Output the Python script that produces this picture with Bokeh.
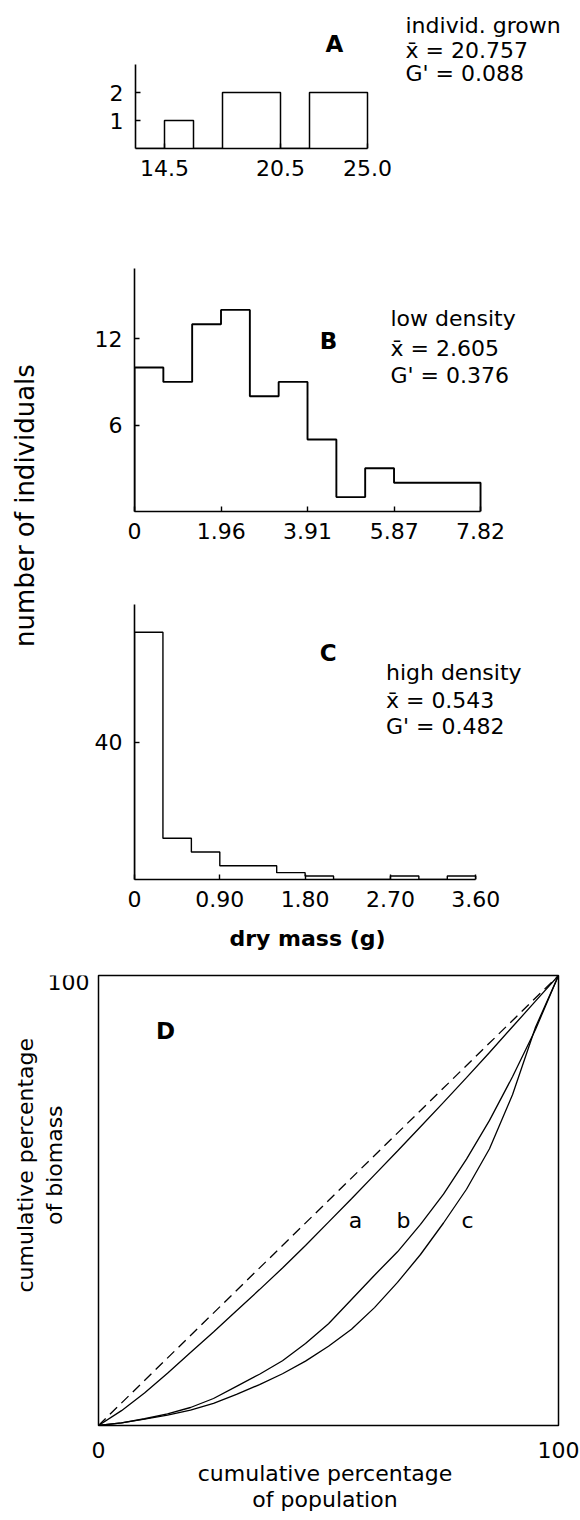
import math
from bokeh.plotting import figure
from bokeh.models import Range1d, FixedTicker, Label, Title
from bokeh.layouts import column, row
from bokeh.embed import file_html
from bokeh.resources import INLINE

FONT = "DejaVu Sans"

# ---------------- data ----------------
# Panel A: individually grown plants
a_edges = [13.0, 14.5, 16.0, 17.5, 19.0, 20.5, 22.0, 23.5, 25.0]
a_counts = [0, 1, 0, 2, 2, 0, 2, 2]
a_xticks = [14.5, 20.5, 25.0]
a_xlabels = ["14.5", "20.5", "25.0"]
a_yticks = [1, 2]
a_ylabels = ["1", "2"]
a_text = ["individ. grown", "x\u0304 = 20.757", "G' = 0.088"]

# Panel B: low density
b_edges = [0.0, 0.652, 1.303, 1.955, 2.607, 3.258, 3.91, 4.562, 5.213, 5.865, 6.517, 7.168, 7.82]
b_counts = [10, 9, 13, 14, 8, 9, 5, 1, 3, 2, 2, 2]
b_xticks = [0.0, 1.96, 3.91, 5.87, 7.82]
b_xlabels = ["0", "1.96", "3.91", "5.87", "7.82"]
b_yticks = [6, 12]
b_ylabels = ["6", "12"]
b_text = ["low  density", "x\u0304 = 2.605", "G' = 0.376"]

# Panel C: high density
c_edges = [0.0, 0.3, 0.6, 0.9, 1.2, 1.5, 1.8, 2.1, 2.4, 2.7, 3.0, 3.3, 3.6]
c_counts = [72, 12, 8, 4, 4, 2, 1, 0, 0, 1, 0, 1]
c_xticks = [0.0, 0.9, 1.8, 2.7, 3.6]
c_xlabels = ["0", "0.90", "1.80", "2.70", "3.60"]
c_yticks = [40]
c_ylabels = ["40"]
c_text = ["high  density", "x\u0304 = 0.543", "G' = 0.482"]

# Panel D: Lorenz curves
d_pop = [0, 5, 10, 15, 20, 25, 30, 35, 40, 45, 50, 55, 60, 65, 70, 75, 80, 85, 90, 95, 100]
d_curve_a = [0, 3.3, 7.2, 11.6, 16.2, 20.8, 25.5, 30.2, 35.0, 40.0, 45.2, 50.4, 55.7, 61.0, 66.4, 71.8, 77.3, 82.9, 88.6, 94.3, 100]
d_curve_b = [0, 0.6, 1.5, 2.6, 4.0, 6.0, 8.7, 11.4, 14.4, 18.2, 22.6, 28.0, 33.4, 38.6, 44.7, 51.4, 59.2, 67.8, 77.5, 88.0, 100]
d_curve_c = [0, 0.6, 1.4, 2.3, 3.4, 4.9, 6.9, 9.1, 11.5, 14.3, 17.6, 21.4, 26.2, 31.8, 38.0, 45.0, 52.5, 61.5, 73.5, 88.5, 100]
d_equal = [0, 100]
d_xticks = [0, 100]
d_xlabels = ["0", "100"]
d_ytop_label = "100"
d_curve_names = ["a", "b", "c"]


# ---------------- helpers ----------------
def outline(edges, counts):
    xs, ys = [edges[0]], [0]
    for i, c in enumerate(counts):
        xs += [edges[i], edges[i + 1]]
        ys += [c, c]
    xs.append(edges[-1])
    ys.append(0)
    return xs, ys


def make_fig(w, h, bl, br, bt, bb, xr, yr, xaxis=True, yaxis=True):
    kw = {}
    if not xaxis:
        kw["x_axis_location"] = None
    if not yaxis:
        kw["y_axis_location"] = None
    p = figure(width=w, height=h, x_range=Range1d(*xr), y_range=Range1d(*yr),
               toolbar_location=None, output_backend="svg",
               min_border_left=bl, min_border_right=br,
               min_border_top=bt, min_border_bottom=bb, **kw)
    p.outline_line_color = None
    p.grid.visible = False
    p.background_fill_color = "white"
    p.border_fill_color = "white"
    return p


def style_axis(ax, ticks, labels, bounds, standoff, line=True):
    ax.ticker = FixedTicker(ticks=ticks)
    ax.major_label_overrides = {t: l for t, l in zip(ticks, labels)}
    if bounds is not None:
        ax.bounds = bounds
    ax.major_tick_in = 5
    ax.major_tick_out = 0
    ax.minor_tick_line_color = None
    ax.axis_line_color = "black" if line else None
    ax.axis_line_width = 1.6
    ax.major_tick_line_color = "black" if line else None
    ax.major_tick_line_width = 1.4
    ax.major_label_text_font = FONT
    ax.major_label_text_font_size = "22px"
    ax.major_label_text_color = "black"
    ax.major_label_standoff = standoff


def converter(fx, fy, x0, y0, sx, sy):
    return lambda X, Y: (x0 + (X - fx) / sx, y0 + (fy - Y) / sy)


def add_label(p, conv, X, Y, text, size=22, bold=False, align="left", angle=0.0):
    x, y = conv(X, Y)
    p.add_layout(Label(x=x, y=y, text=text, text_font=FONT,
                       text_font_size=f"{size}px",
                       text_font_style="bold" if bold else "normal",
                       text_color="black", text_align=align,
                       text_baseline="middle", angle=angle))


# ---------------- panel A (page y 0-200) ----------------
sxA, syA = (367 - 135) / 12.0, 28.0
pA = make_fig(580, 200, 135, 0, 0, 52, (13.0, 13.0 + 445 / sxA), (0, 148 / syA))
xs, ys = outline(a_edges, a_counts)
pA.line(xs, ys, line_color="black", line_width=1.5)
style_axis(pA.xaxis[0], a_xticks, a_xlabels, (a_edges[0], a_edges[-1]), 11)
style_axis(pA.yaxis[0], a_yticks, a_ylabels, (0, 3), 12)
cA = converter(135, 148, 13.0, 0, sxA, syA)
add_label(pA, cA, 334, 43, "A", size=23, bold=True, align="center")
for t, Y in zip(a_text, [25, 50, 73]):
    add_label(pA, cA, 405, Y, t)

# ---------------- panel B (page y 200-570) ----------------
sxB, syB = 44.25, 14.4
pB = make_fig(514, 370, 68, 0, 0, 59, (0, 446 / sxB), (0, 311 / syB))
xs, ys = outline(b_edges, b_counts)
pB.line(xs, ys, line_color="black", line_width=1.9)
style_axis(pB.xaxis[0], b_xticks, b_xlabels, (b_edges[0], b_edges[-1]), 11)
style_axis(pB.yaxis[0], b_yticks, b_ylabels, (0, 16.9), 12)
cB = converter(134, 511, 0, 0, sxB, syB)
add_label(pB, cB, 328, 340, "B", size=23, bold=True, align="center")
for t, Y in zip(b_text, [318, 348, 375]):
    add_label(pB, cB, 390, Y, t)

# ---------------- panel C (page y 570-969) ----------------
sxC, syC = 95.0, 3.433
C_BOTTOM = 90
pC = make_fig(514, 309 + C_BOTTOM, 67, 0, 0, C_BOTTOM, (0, 447 / sxC), (0, 309 / syC))
xs, ys = outline(c_edges, c_counts)
pC.line(xs, ys, line_color="black", line_width=1.4)
style_axis(pC.xaxis[0], c_xticks, c_xlabels, (c_edges[0], c_edges[-1]), 11)
style_axis(pC.yaxis[0], c_yticks, c_ylabels, (0, 80), 12)
cC = converter(133, 879, 0, 0, sxC, syC)
add_label(pC, cC, 327, 652, "C", size=23, bold=True, align="center")
for t, Y in zip(c_text, [672, 700, 726]):
    add_label(pC, cC, 385, Y, t)
pC.add_layout(Title(text="dry mass (g)", align="left", offset=228 - 133,
                    vertical_align="top",
                    text_font=FONT, text_font_size="22px", text_font_style="bold",
                    text_color="black", standoff=33), "below")

MID_TOP = 200
MID_BOTTOM = 570 + 309 + C_BOTTOM  # 969

# ---------------- label column (page x 0-66) ----------------
pL = make_fig(66, MID_BOTTOM - MID_TOP, 0, 0, 0, 0, (0, 66), (0, MID_BOTTOM - MID_TOP),
              xaxis=False, yaxis=False)
cL = converter(0, MID_BOTTOM, 0, 0, 1, 1)
add_label(pL, cL, 24, 505, "number of individuals", size=26, align="center", angle=math.pi / 2)

# ---------------- panel D (page y 969-1520) ----------------
D_H = 1520 - MID_BOTTOM
pDL = make_fig(90, D_H, 0, 0, 0, 0, (0, 90), (0, D_H), xaxis=False, yaxis=False)
cDL = converter(0, 1520, 0, 0, 1, 1)
add_label(pDL, cDL, 25, 1197, "cumulative  percentage", align="center", angle=math.pi / 2)
add_label(pDL, cDL, 54, 1197, "of  biomass", align="center", angle=math.pi / 2)
add_label(pDL, cDL, 89, 977, d_ytop_label, align="right")

sxD, syD = 460 / 100.0, 450 / 100.0
pD = make_fig(490, D_H, 8, 22, 975 - MID_BOTTOM, 95, (0, 100), (0, 100), yaxis=False)
pD.outline_line_color = "black"
pD.outline_line_width = 1.5
pD.line(d_equal, d_equal, line_color="black", line_width=1.3, line_dash="10 6")
for curve in (d_curve_a, d_curve_b, d_curve_c):
    pD.line(d_pop, curve, line_color="black", line_width=1.3)
style_axis(pD.xaxis[0], d_xticks, d_xlabels, None, 16, line=False)
ax = pD.xaxis[0]
ax.axis_label = "cumulative  percentage\nof  population"
ax.axis_label_text_font = FONT
ax.axis_label_text_font_size = "22px"
ax.axis_label_text_font_style = "normal"
ax.axis_label_text_color = "black"
ax.axis_label_standoff = 0
ax.axis_label_text_line_height = 1.05
cD = converter(98, 1425, 0, 0, sxD, syD)
add_label(pD, cD, 165, 1030, "D", size=23, bold=True, align="center")
for name, X in zip(d_curve_names, [355, 403, 467]):
    add_label(pD, cD, X, 1220, name, size=22, align="center")

layout = column(pA, row(pL, column(pB, pC)), row(pDL, pD))

open("out.html", "w").write(file_html(layout, INLINE))
